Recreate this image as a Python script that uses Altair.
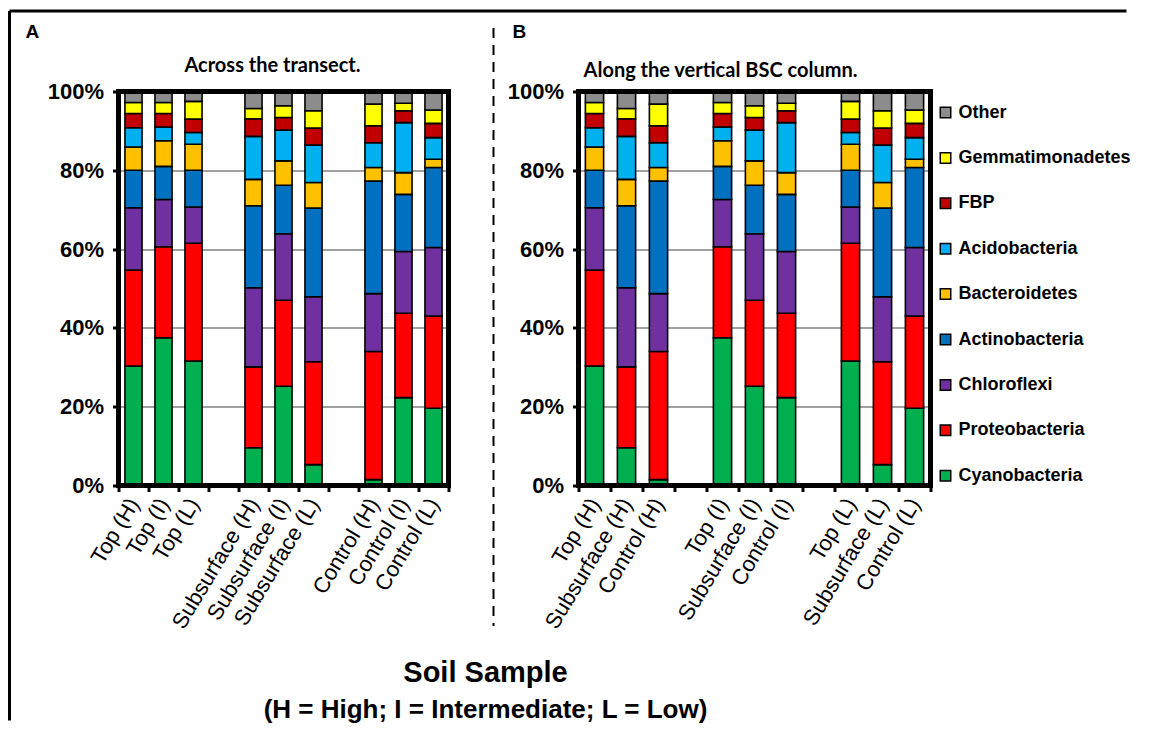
import altair as alt
import pandas as pd

# ---------------- data ----------------
samples = ["Top (H)", "Top (I)", "Top (L)",
           "Subsurface (H)", "Subsurface (I)", "Subsurface (L)",
           "Control (H)", "Control (I)", "Control (L)"]
phyla = ["Cyanobacteria", "Proteobacteria", "Chloroflexi", "Actinobacteria",
         "Bacteroidetes", "Acidobacteria", "FBP", "Gemmatimonadetes", "Other"]
colors = ["#00B050", "#FF0000", "#7030A0", "#0070C0",
          "#FFC000", "#00B0F0", "#C00000", "#FFFF00", "#8C8C8C"]

cyanobacteria    = [30.3, 37.5, 31.6, 9.6, 25.2, 5.3, 1.5, 22.3, 19.6]
proteobacteria   = [24.4, 23.1, 29.9, 20.5, 21.8, 26.1, 32.5, 21.4, 23.4]
chloroflexi      = [15.8, 12.0, 9.2, 20.1, 16.9, 16.5, 14.7, 15.7, 17.4]
actinobacteria   = [9.5, 8.4, 9.3, 20.8, 12.3, 22.5, 28.6, 14.5, 20.3]
bacteroidetes    = [5.9, 6.5, 6.6, 6.7, 6.2, 6.5, 3.4, 5.5, 2.1]
acidobacteria    = [4.9, 3.5, 3.0, 10.9, 7.8, 9.5, 6.3, 12.7, 5.5]
fbp              = [3.6, 3.4, 3.4, 4.5, 3.2, 4.3, 4.3, 3.0, 3.6]
gemmatimonadetes = [2.8, 2.8, 4.5, 2.6, 3.0, 4.4, 5.5, 1.9, 3.4]
other            = [2.8, 2.8, 2.5, 4.3, 3.6, 4.9, 3.2, 3.0, 4.7]

series = [cyanobacteria, proteobacteria, chloroflexi, actinobacteria,
          bacteroidetes, acidobacteria, fbp, gemmatimonadetes, other]

order_a = ["Top (H)", "Top (I)", "Top (L)", " ",
           "Subsurface (H)", "Subsurface (I)", "Subsurface (L)", "  ",
           "Control (H)", "Control (I)", "Control (L)"]
order_b = ["Top (H)", "Subsurface (H)", "Control (H)", " ",
           "Top (I)", "Subsurface (I)", "Control (I)", "  ",
           "Top (L)", "Subsurface (L)", "Control (L)"]

y_ticks = [0, 0.2, 0.4, 0.6, 0.8, 1.0]

rows = []
for i, (p, vals) in enumerate(zip(phyla, series)):
    for s, v in zip(samples, vals):
        rows.append({"sample": s, "phylum": p, "value": v, "ord": i})
df = pd.DataFrame(rows)
one = pd.DataFrame({"k": [0]})

legend_order = list(reversed(phyla))
legend_colors = list(reversed(colors))

FONT = "Liberation Sans"
H = 394
WA = 330
WB = 352

xaxis = alt.Axis(title=None, tickBand="extent", labelAngle=-59, labelAlign="right",
                 labelBaseline="middle", labelFontSize=22, labelFont=FONT,
                 labelColor="black", ticks=True, tickSize=6, tickWidth=3,
                 tickColor="black", domain=False, grid=False, labelPadding=8,
                 labelOverlap=False, labelLimit=300)
yaxis = alt.Axis(title=None, values=y_ticks, format=".0%", labelFontSize=22,
                 labelFontWeight="bold", labelFont=FONT, labelColor="black",
                 tickSize=6, tickWidth=3, tickColor="black", domain=False,
                 grid=True, gridColor="#808080", gridWidth=1.5, labelPadding=9)


def text(t, x, y, size, weight="bold", font=FONT, align="center"):
    return alt.Chart(one).mark_text(text=t, fontSize=size, fontWeight=weight, font=font,
                                    align=align, baseline="middle", color="black").encode(
        x=alt.value(x), y=alt.value(y))


def panel(domain, width, legend, extra):
    bars = alt.Chart(df).mark_bar(stroke="black", strokeWidth=1.6,
                                  width=alt.RelativeBandSize(0.57)).encode(
        x=alt.X("sample:N", scale=alt.Scale(domain=domain, paddingInner=0, paddingOuter=0), axis=xaxis),
        y=alt.Y("value:Q", stack="normalize", scale=alt.Scale(domain=[0, 1], nice=False), axis=yaxis),
        color=alt.Color("phylum:N", scale=alt.Scale(domain=legend_order, range=legend_colors),
                        legend=legend),
        order=alt.Order("ord:Q", sort="ascending"),
    )
    frame = alt.Chart(one).mark_rect(fill="transparent", stroke="black", strokeWidth=5).encode(
        x=alt.value(0), x2=alt.value(width), y=alt.value(0), y2=alt.value(H))
    return alt.layer(bars, frame, *extra).properties(width=width, height=H)


legend = alt.Legend(title=None, orient="none", legendX=358, legendY=12, symbolType="square",
                    symbolSize=110, symbolStrokeColor="black", symbolStrokeWidth=1.5,
                    labelFontSize=18, labelFontWeight="bold", labelFont=FONT,
                    labelColor="black", rowPadding=27.4, labelLimit=300, symbolOpacity=1)

extras_a = [
    alt.Chart(one).mark_rule(color="black", strokeWidth=3).encode(
        x=alt.value(-109), x2=alt.value(-109), y=alt.value(-80.5), y2=alt.value(629)),
    alt.Chart(one).mark_rule(color="black", strokeWidth=3).encode(
        x=alt.value(-109), x2=alt.value(1008), y=alt.value(-80.5), y2=alt.value(-80.5)),
    alt.Chart(one).mark_rule(color="black", strokeWidth=2, strokeDash=[10, 7]).encode(
        x=alt.value(375), x2=alt.value(375), y=alt.value(-63.5), y2=alt.value(534.5)),
    text("A", -93, -59.5, 19, align="left"),
    text("B", 394, -59.5, 19, align="left"),
    text("Across the transect.", 154, -25.5, 20, font="Lato"),
    text("Soil Sample", 367, 581.5, 29),
    text("(H = High; I = Intermediate; L = Low)", 367, 618.5, 26),
]
extras_b = [
    text("Along the vertical BSC column.", 142, -20.5, 20, font="Lato"),
]

pa = panel(order_a, WA, None, extras_a)
pb = panel(order_b, WB, legend, extras_b)

chart = alt.hconcat(pa, pb, spacing=130).properties(
    bounds="flush",
    padding={"left": 7.5, "top": 8.5, "right": 0, "bottom": 0},
).resolve_scale(color="independent").configure_view(
    stroke="transparent"
).configure(background="white")

chart.save("out.html", embed_options={"renderer": "svg", "actions": False})
